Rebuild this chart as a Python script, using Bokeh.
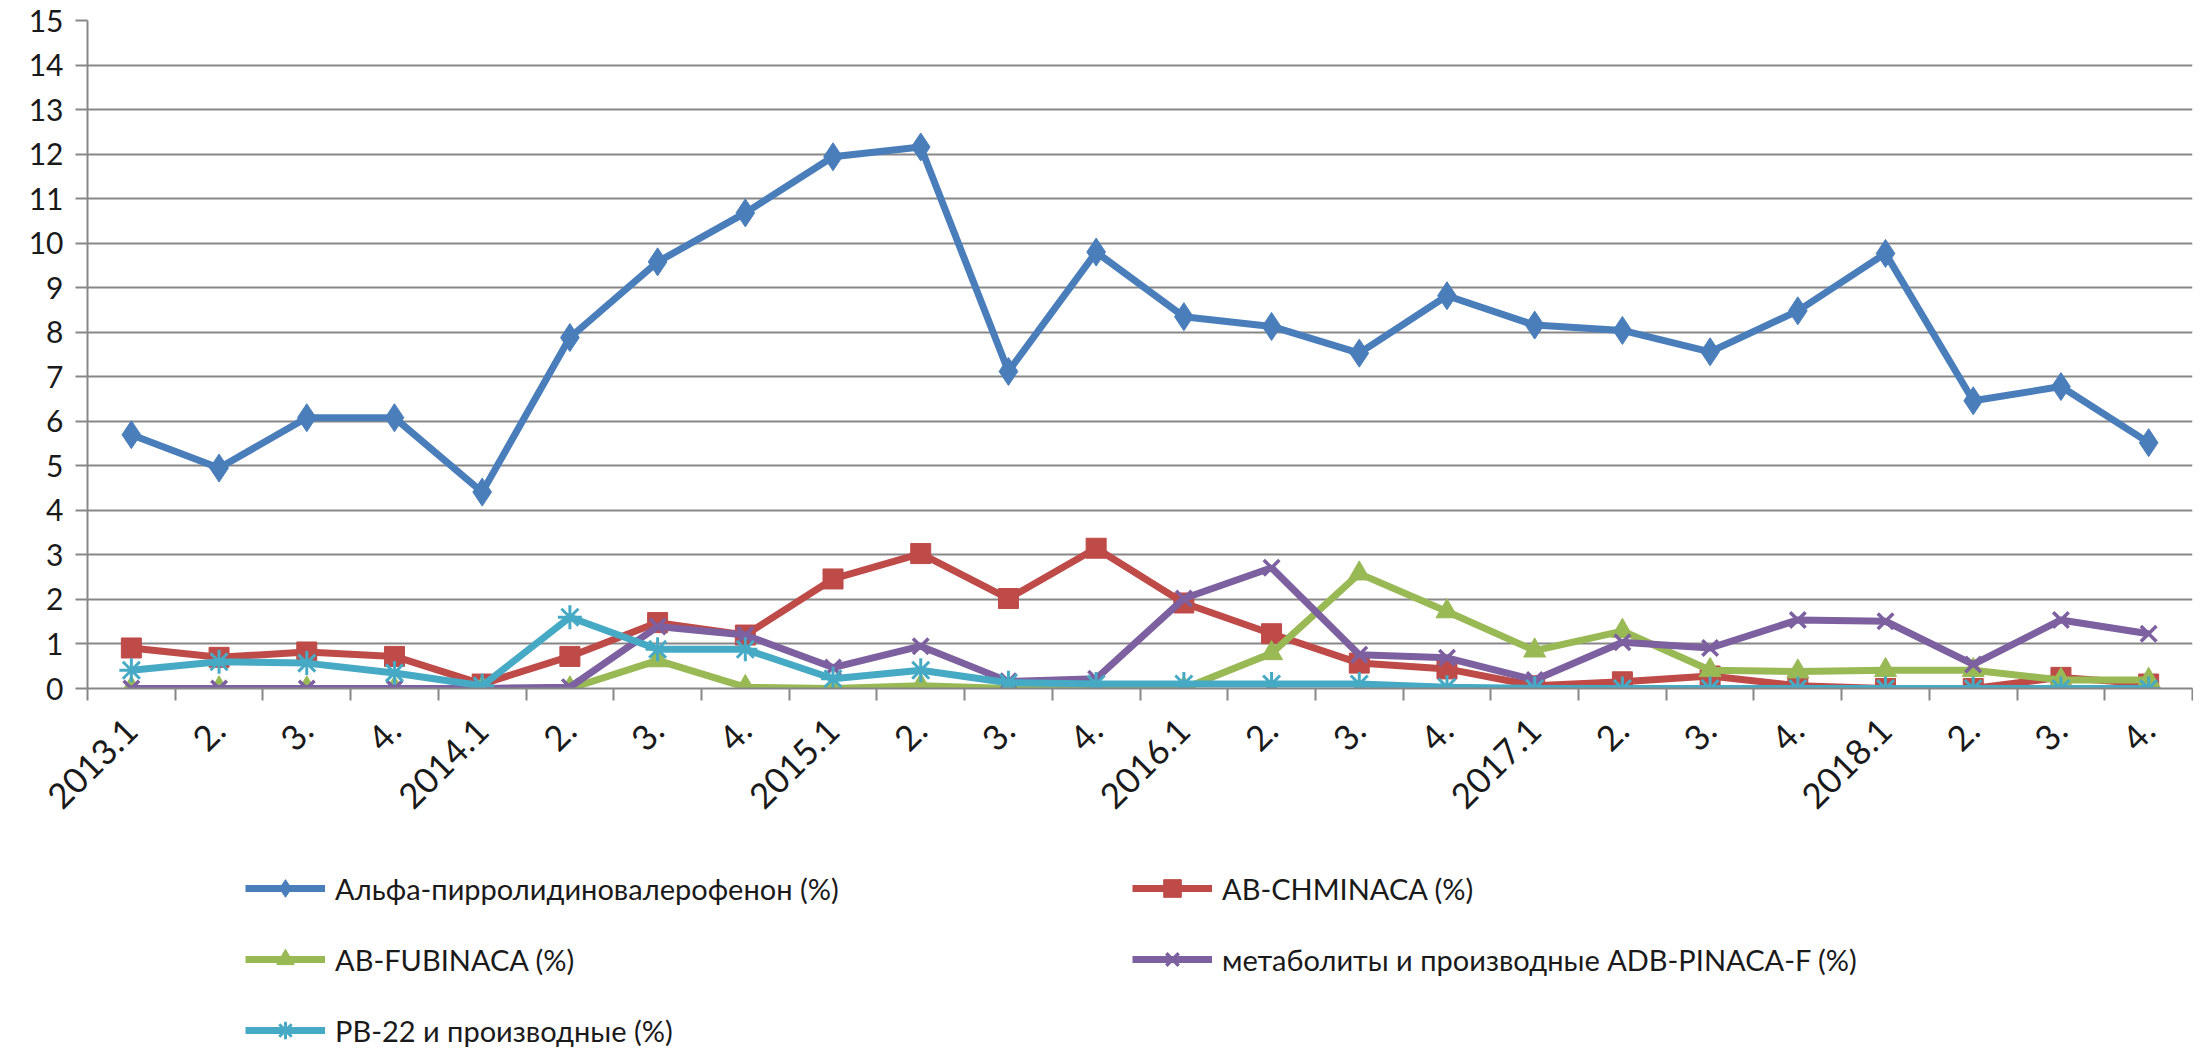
import math
from bokeh.plotting import figure
from bokeh.layouts import column
from bokeh.models import Range1d, FixedTicker, Legend, LegendItem, ColumnDataSource
from bokeh.embed import file_html
from bokeh.resources import INLINE

categories = ["2013.1", "2.", "3.", "4.", "2014.1", "2.", "3.", "4.",
              "2015.1", "2.", "3.", "4.", "2016.1", "2.", "3.", "4.",
              "2017.1", "2.", "3.", "4.", "2018.1", "2.", "3.", "4."]
alpha_pvp = [5.70, 4.95, 6.08, 6.08, 4.41, 7.88, 9.58, 10.68, 11.94, 12.16, 7.12, 9.80,
             8.35, 8.13, 7.53, 8.82, 8.16, 8.04, 7.56, 8.48, 9.77, 6.46, 6.78, 5.52]
ab_chminaca = [0.91, 0.70, 0.82, 0.72, 0.10, 0.72, 1.48, 1.20, 2.46, 3.03, 2.02, 3.15,
               1.92, 1.23, 0.57, 0.44, 0.06, 0.15, 0.28, 0.06, 0.00, 0.00, 0.25, 0.10]
ab_fubinaca = [0, 0, 0, 0, 0, 0, 0.63, 0.03, 0, 0.06, 0, 0,
               0, 0.79, 2.58, 1.73, 0.85, 1.29, 0.41, 0.38, 0.41, 0.41, 0.19, 0.19]
adb_pinaca_f = [0, 0, 0, 0, 0, 0.03, 1.39, 1.20, 0.47, 0.95, 0.16, 0.22,
                2.02, 2.71, 0.76, 0.69, 0.19, 1.04, 0.91, 1.54, 1.51, 0.54, 1.54, 1.23]
pb22 = [0.41, 0.60, 0.57, 0.35, 0.06, 1.60, 0.88, 0.88, 0.22, 0.41, 0.13, 0.10,
        0.10, 0.10, 0.10, 0.03, 0, 0, 0, 0, 0, 0, 0, 0]
y_ticks = list(range(0, 16))

names = ["Альфа-пирролидиновалерофенон (%)", "AB-CHMINACA (%)", "AB-FUBINACA (%)",
         "метаболиты и производные ADB-PINACA-F (%)", "PB-22 и производные (%)"]

FONT = "Lato"
GRID = "#878787"
W = 2193
H_CHART = 861
H_LEGEND = 186
x = list(range(len(categories)))

p = figure(width=W, height=H_CHART, output_backend="svg", toolbar_location=None,
           x_range=Range1d(-0.5, len(categories) - 0.5), y_range=Range1d(0, 15),
           min_border_left=87, min_border_right=1, min_border_top=20,
           min_border_bottom=H_CHART - 688)
p.outline_line_color = None
p.background_fill_color = "white"
p.border_fill_color = "white"

p.xgrid.grid_line_color = None
p.ygrid.grid_line_color = GRID
p.ygrid.grid_line_width = 2
p.ygrid.ticker = FixedTicker(ticks=y_ticks)

yax = p.yaxis[0]
yax.ticker = FixedTicker(ticks=y_ticks)
yax.axis_line_color = GRID
yax.axis_line_width = 2
yax.major_tick_line_color = GRID
yax.major_tick_line_width = 2
yax.major_tick_out = 12
yax.major_tick_in = 0
yax.minor_tick_line_color = None
yax.major_label_text_font = FONT
yax.major_label_text_font_size = "30px"
yax.major_label_text_color = "#1a1a1a"
yax.major_label_standoff = 12

xax = p.xaxis[0]
xax.ticker = FixedTicker(ticks=x, minor_ticks=[i - 0.5 for i in range(len(categories) + 1)])
xax.major_label_overrides = {i: c for i, c in enumerate(categories)}
xax.axis_line_color = GRID
xax.axis_line_width = 2
xax.major_tick_line_color = None
xax.major_tick_out = 0
xax.major_tick_in = 0
xax.minor_tick_line_color = GRID
xax.minor_tick_line_width = 2
xax.minor_tick_out = 12
xax.minor_tick_in = 0
xax.major_label_orientation = math.pi / 4
xax.major_label_text_font = FONT
xax.major_label_text_font_size = "35px"
xax.major_label_text_color = "#1a1a1a"
xax.major_label_standoff = 24

series = [
    (names[0], alpha_pvp, "#4A7EBB", "diamond", 28, 1),
    (names[1], ab_chminaca, "#BE4B48", "square", 20, 1),
    (names[2], ab_fubinaca, "#98B954", "triangle", 22, 1),
    (names[3], adb_pinaca_f, "#7D60A0", "x", 22, 3.5),
    (names[4], pb22, "#46AAC5", "asterisk", 24, 3),
]

# legend lives in a strip below the chart; its view ranges lie away from the data,
# so the series' renderers there only serve as legend keys
q = figure(width=W, height=H_LEGEND, output_backend="svg", toolbar_location=None,
           x_range=Range1d(1000, 1001), y_range=Range1d(1000, 1001),
           x_axis_location=None, y_axis_location=None,
           min_border_left=0, min_border_right=0, min_border_top=0, min_border_bottom=0)
q.outline_line_color = None
q.xgrid.grid_line_color = None
q.ygrid.grid_line_color = None

lookup = {}
for name, vals, color, marker, size, lw in series:
    src = ColumnDataSource(dict(x=x, y=vals))
    p.line("x", "y", source=src, line_color=color, line_width=7)
    p.scatter("x", "y", source=src, marker=marker, size=size,
              fill_color=color, line_color=color, line_width=lw)
    ln = q.line("x", "y", source=src, line_color=color, line_width=7)
    sc = q.scatter("x", "y", source=src, marker=marker, size=size,
                   fill_color=color, line_color=color, line_width=lw)
    lookup[name] = LegendItem(label=name, renderers=[ln, sc])

legend = Legend(items=[lookup[n] for n in names], orientation="horizontal", ncols=2,
                location=(158, -5), margin=0, padding=0,
                glyph_width=80, glyph_height=44, label_standoff=10,
                label_width=770, label_height=30, spacing=27,
                label_text_font=FONT, label_text_font_size="29px",
                label_text_color="#1a1a1a",
                border_line_color=None, background_fill_alpha=0)
q.add_layout(legend, "center")

layout = column(p, q, spacing=0)
open("out.html", "w").write(file_html(layout, INLINE))
